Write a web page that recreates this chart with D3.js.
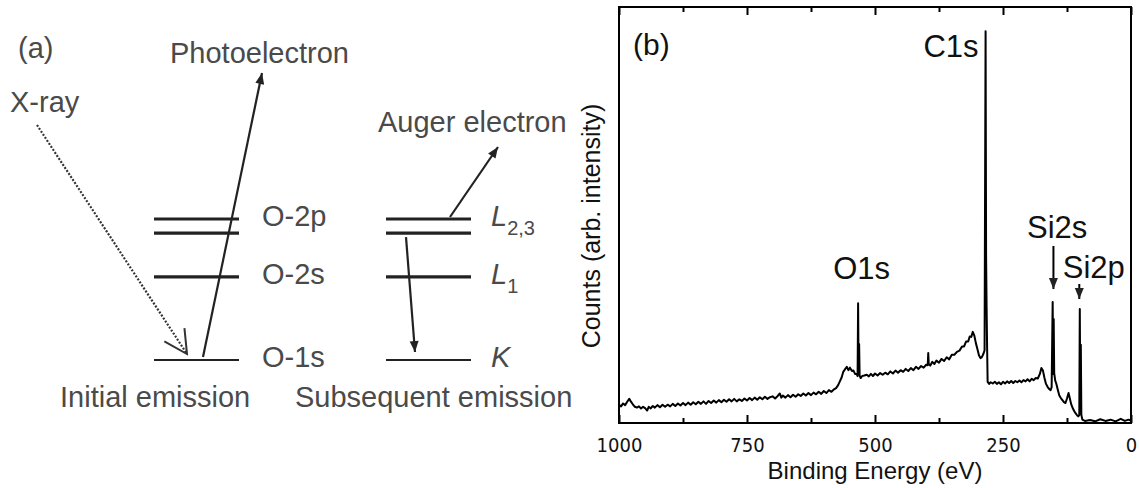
<!DOCTYPE html>
<html>
<head>
<meta charset="utf-8">
<script src="https://cdn.jsdelivr.net/npm/d3@7"></script>
<style>
  body { margin: 0; background: #fff; }
  svg { display: block; }
  .diag text { font-family: "Liberation Sans", Arial, sans-serif; font-size: 29px; fill: #4a4a4a; }
  .spec text { font-family: "Liberation Sans", Arial, sans-serif; fill: #111; }
  .tick-lab text { font-family: "Liberation Sans Narrow", "DejaVu Sans Condensed", "Liberation Sans", sans-serif; font-size: 20px; fill: #111; }
</style>
</head>
<body>
<div id="chart"></div>
<script>
// XPS: (a) emission scheme, (b) survey spectrum
var svgWidth = 1139;
var svgHeight = 488;

// (a) shell levels
var leftLevels = ["O-2p", "O-2s", "O-1s"];
var rightLevels = [["L", "2,3"], ["L", "1"], ["K", ""]];
var levelDepth = [0, 4.1, 10];     // relative depth below the outer shell
var doubletDepth = 1;              // second line of the 2p / L2,3 doublet
var bottomLabels = ["Initial emission", "Subsequent emission"];

// (b) survey spectrum
var specEnergy = [1000, 996, 992, 988, 984, 980, 977, 973, 969, 965, 961, 957, 953, 949, 945, 942, 938, 934, 930, 925,
  920, 915, 910, 905, 900, 895, 890, 885, 880, 875, 870, 865, 860, 855, 850, 845, 840, 835, 830, 825,
  820, 815, 810, 805, 800, 795, 790, 785, 780, 775, 770, 765, 760, 755, 750, 745, 740, 735, 730, 725,
  720, 715, 710, 705, 700, 695, 690, 686, 683, 680, 675, 670, 665, 660, 655, 650, 645, 640, 635, 630,
  625, 620, 615, 610, 605, 600, 595, 590, 585, 580, 576, 572, 568, 565, 562, 558, 555, 552, 549, 545,
  542, 539, 536, 534, 533, 532, 531, 530, 528, 525, 521, 516, 512, 508, 504, 500, 495, 490, 485, 480,
  475, 470, 465, 460, 455, 450, 445, 440, 435, 430, 425, 420, 415, 410, 405, 400, 397, 396, 395, 392,
  388, 384, 380, 375, 370, 365, 360, 355, 350, 345, 340, 335, 330, 326, 322, 318, 315, 312, 309, 306,
  303, 300, 297, 294, 291, 288, 286, 284, 283, 282, 281, 280, 277, 274, 270, 266, 262, 258, 254, 250,
  246, 242, 238, 234, 230, 226, 222, 218, 214, 210, 206, 202, 198, 194, 190, 186, 182, 178, 175, 172,
  169, 166, 163, 160, 157, 155, 153, 152, 151, 150, 148, 146, 143, 140, 137, 134, 131, 128, 125, 122,
  120, 117, 114, 111, 108, 105, 103, 101, 100, 99, 98, 97, 95, 90, 80, 70, 60, 50, 40, 30,
  20, 12, 5, 0];
var specCounts = [4.4, 4.0, 4.7, 4.3, 5.1, 5.8, 5.2, 4.5, 3.9, 3.7, 4.0, 3.5, 3.9, 3.6, 3.0, 3.9, 3.5, 4.1, 3.7, 4.3,
  3.8, 4.4, 3.9, 4.4, 4.0, 4.6, 4.1, 4.7, 4.2, 4.8, 4.3, 4.9, 4.4, 5.0, 4.5, 5.1, 4.6, 5.2, 4.6, 5.3,
  4.8, 5.4, 4.9, 5.5, 5.0, 5.6, 5.1, 5.7, 5.2, 5.8, 5.2, 5.7, 5.3, 5.9, 5.4, 6.0, 5.5, 6.1, 5.6, 6.2,
  5.7, 6.3, 5.8, 6.2, 6.4, 5.9, 6.5, 7.1, 6.1, 6.6, 6.1, 6.7, 6.2, 6.8, 6.3, 6.9, 6.5, 7.1, 6.6, 7.2,
  6.7, 7.3, 6.9, 7.5, 7.0, 7.7, 7.2, 7.9, 7.5, 8.1, 8.4, 9.1, 10.2, 11.0, 12.3, 13.0, 13.5, 12.7, 13.3, 12.5,
  12.6, 11.8, 11.8, 11.3, 28.8, 12.2, 19.0, 11.4, 10.8, 11.3, 11.4, 11.6, 11.2, 11.8, 11.3, 11.9, 11.4, 12.0, 11.6, 12.1,
  11.7, 12.4, 11.9, 12.6, 12.1, 12.7, 12.3, 13.0, 12.5, 13.2, 12.7, 13.5, 13.0, 13.7, 13.3, 14.0, 13.9, 16.8, 14.2, 13.8,
  14.7, 14.2, 15.0, 14.5, 15.4, 14.9, 15.8, 15.3, 16.4, 16.4, 17.1, 17.4, 18.4, 18.4, 19.6, 19.6, 20.8, 20.7, 21.9, 21.0,
  19.2, 17.8, 16.3, 15.6, 15.9, 16.7, 17.5, 94.2, 40.0, 27.6, 18.0, 9.9, 9.4, 9.8, 9.5, 9.9, 9.4, 9.8, 9.3, 9.9,
  9.5, 10.0, 9.6, 10.1, 9.6, 10.1, 9.8, 10.2, 9.8, 10.3, 10.0, 10.5, 10.0, 10.6, 10.3, 10.8, 10.7, 11.8, 13.2, 12.6,
  10.8, 9.4, 8.7, 8.2, 7.9, 8.6, 29.1, 11.8, 25.0, 12.0, 10.2, 9.5, 8.0, 6.6, 6.0, 5.5, 5.0, 4.8, 5.9, 7.2,
  6.2, 4.6, 3.6, 2.9, 2.3, 1.8, 1.6, 1.9, 27.4, 4.0, 18.8, 2.0, 0.8, 0.5, 0.7, 0.4, 0.9, 0.5, 0.8, 0.4,
  1.0, 0.5, 0.8, 0.6];

var peakNames = ["C1s", "O1s", "Si2s", "Si2p"];
var peakEnergy = [284, 532, 152, 100];
var xMajorTicks = [1000, 750, 500, 250, 0];
var xMinorTicks = [875, 625, 375, 125];

var svg = d3.select("#chart")
  .append("svg")
  .attr("width", svgWidth)
  .attr("height", svgHeight);

var defs = svg.append("defs");
// filled arrow head
defs.append("marker")
  .attr("id", "head")
  .attr("markerUnits", "userSpaceOnUse")
  .attr("viewBox", "-13 -6 15 12")
  .attr("refX", 0).attr("refY", 0)
  .attr("markerWidth", 15).attr("markerHeight", 12)
  .attr("orient", "auto")
  .append("path")
  .attr("d", "M-11,-4.5L0,0L-11,4.5Z")
  .attr("fill", "#222");
// open V head for the x-ray
defs.append("marker")
  .attr("id", "vhead")
  .attr("markerUnits", "userSpaceOnUse")
  .attr("viewBox", "-26 -14 28 28")
  .attr("refX", 0).attr("refY", 0)
  .attr("markerWidth", 28).attr("markerHeight", 28)
  .attr("orient", "auto")
  .append("path")
  .attr("d", "M-23,-12L0,0L-23,12")
  .attr("fill", "none")
  .attr("stroke", "#333")
  .attr("stroke-width", 2);

// ---------- (a) ----------
var diag = svg.append("g").attr("class", "diag");
var ey = d3.scaleLinear().domain([0, 10]).range([219, 360]);
var leftX = [154, 239];
var rightX = [386, 471];

function drawLevels(xr) {
  levelDepth.forEach(function (d, i) {
    var last = i === levelDepth.length - 1;
    diag.append("line")
      .attr("x1", xr[0]).attr("x2", xr[1])
      .attr("y1", ey(d)).attr("y2", ey(d))
      .attr("stroke", "#222")
      .attr("stroke-width", last ? 2 : 3.2);
  });
  diag.append("line")
    .attr("x1", xr[0]).attr("x2", xr[1])
    .attr("y1", ey(doubletDepth)).attr("y2", ey(doubletDepth))
    .attr("stroke", "#222")
    .attr("stroke-width", 3.2);
}
drawLevels(leftX);
drawLevels(rightX);

diag.selectAll(".lvl-left")
  .data(leftLevels)
  .enter()
  .append("text")
  .attr("x", 262)
  .attr("y", (d, i) => ey(levelDepth[i]) + 7)
  .text(d => d);

var rl = diag.selectAll(".lvl-right")
  .data(rightLevels)
  .enter()
  .append("text")
  .attr("x", 491)
  .attr("y", (d, i) => ey(levelDepth[i]) + 7);
rl.append("tspan")
  .attr("font-style", "italic")
  .text(d => d[0]);
rl.append("tspan")
  .attr("font-size", "20px")
  .attr("dy", 9)
  .text(d => d[1]);

diag.append("text").attr("x", 18).attr("y", 58).text("(a)");
diag.append("text").attr("x", 10).attr("y", 112).text("X-ray");
diag.append("text").attr("x", 170).attr("y", 63).text("Photoelectron");
diag.append("text").attr("x", 378).attr("y", 132).text("Auger electron");
diag.selectAll(".bottom-lab")
  .data(bottomLabels)
  .enter()
  .append("text")
  .attr("x", (d, i) => i === 0 ? 60 : 295)
  .attr("y", 407)
  .text(d => d);

// x-ray in (dotted)
diag.append("line")
  .attr("x1", 37).attr("y1", 125)
  .attr("x2", 187).attr("y2", ey(10) - 6)
  .attr("stroke", "#333")
  .attr("stroke-width", 2.2)
  .attr("stroke-dasharray", "2,1.6")
  .attr("marker-end", "url(#vhead)");
// photoelectron out
diag.append("line")
  .attr("x1", 203).attr("y1", ey(10) - 3)
  .attr("x2", 262).attr("y2", 73)
  .attr("stroke", "#222")
  .attr("stroke-width", 2.2)
  .attr("marker-end", "url(#head)");
// L2,3 -> K relaxation
diag.append("line")
  .attr("x1", 406).attr("y1", ey(doubletDepth) + 4)
  .attr("x2", 415).attr("y2", ey(10) - 8)
  .attr("stroke", "#222")
  .attr("stroke-width", 2.2)
  .attr("marker-end", "url(#head)");
// auger electron out
diag.append("line")
  .attr("x1", 450).attr("y1", ey(0) - 2)
  .attr("x2", 498).attr("y2", 147)
  .attr("stroke", "#222")
  .attr("stroke-width", 2.2)
  .attr("marker-end", "url(#head)");

// ---------- (b) ----------
var spec = svg.append("g").attr("class", "spec");
var x = d3.scaleLinear().domain([1000, 0]).range([619, 1131]);
var y = d3.scaleLinear().domain([0, 100]).range([423, 7]);

var specData = specEnergy.map((e, i) => ({ e: e, c: specCounts[i] }));
var line = d3.line()
  .x(d => x(d.e))
  .y(d => y(d.c));

spec.append("path")
  .datum(specData)
  .attr("d", line)
  .attr("fill", "none")
  .attr("stroke", "#000")
  .attr("stroke-width", 2)
  .attr("stroke-linejoin", "round");

// axes, ticks inward
var bottomAxis = d3.axisBottom(x).tickValues(xMajorTicks).tickSize(-8).tickPadding(15).tickFormat(d3.format("d"));
var bottomMinor = d3.axisBottom(x).tickValues(xMinorTicks).tickSize(-5).tickFormat("");
var topAxis = d3.axisTop(x).tickValues(xMajorTicks).tickSize(-8).tickFormat("");
var topMinor = d3.axisTop(x).tickValues(xMinorTicks).tickSize(-5).tickFormat("");

var xAxis = spec.append("g")
  .attr("class", "tick-lab")
  .attr("transform", `translate(0, ${y(0)})`)
  .call(bottomAxis);
spec.append("g").attr("transform", `translate(0, ${y(0)})`).call(bottomMinor);
spec.append("g").attr("transform", `translate(0, ${y(100)})`).call(topAxis);
spec.append("g").attr("transform", `translate(0, ${y(100)})`).call(topMinor);
spec.selectAll(".domain").remove();
spec.selectAll(".tick line").attr("stroke", "#000").attr("stroke-width", 2);
xAxis.selectAll("text").attr("font-size", null).attr("font-family", null);

spec.append("rect")
  .attr("x", x(1000)).attr("y", y(100))
  .attr("width", x(0) - x(1000)).attr("height", y(0) - y(100))
  .attr("fill", "none")
  .attr("stroke", "#000")
  .attr("stroke-width", 2);

spec.append("text")
  .attr("x", x(500))
  .attr("y", 479)
  .attr("text-anchor", "middle")
  .attr("font-size", "24px")
  .text("Binding Energy (eV)");

spec.append("text")
  .attr("transform", `translate(600, ${(y(0) + y(100)) / 2 + 11}) rotate(-90)`)
  .attr("text-anchor", "middle")
  .attr("font-size", "25px")
  .attr("fill", "#222")
  .text("Counts (arb. intensity)");

spec.append("text")
  .attr("x", 633).attr("y", 55)
  .attr("font-size", "30px")
  .text("(b)");

// peak labels
var labX = [x(peakEnergy[0]) - 7, x(peakEnergy[1]) + 3, x(peakEnergy[2]) + 4, x(peakEnergy[3]) + 14];
var labY = [57, 279, 238, 278];
spec.selectAll(".peak")
  .data(peakNames)
  .enter()
  .append("text")
  .attr("x", (d, i) => labX[i])
  .attr("y", (d, i) => labY[i])
  .attr("text-anchor", (d, i) => i === 0 ? "end" : "middle")
  .attr("font-size", "31px")
  .text(d => d);

// Si arrows
spec.append("line")
  .attr("x1", x(151.5)).attr("y1", 246)
  .attr("x2", x(151.5)).attr("y2", 289)
  .attr("stroke", "#000").attr("stroke-width", 2)
  .attr("marker-end", "url(#head)");
spec.append("line")
  .attr("x1", x(101)).attr("y1", 284)
  .attr("x2", x(101)).attr("y2", 299)
  .attr("stroke", "#000").attr("stroke-width", 2)
  .attr("marker-end", "url(#head)");
</script>
</body>
</html>
